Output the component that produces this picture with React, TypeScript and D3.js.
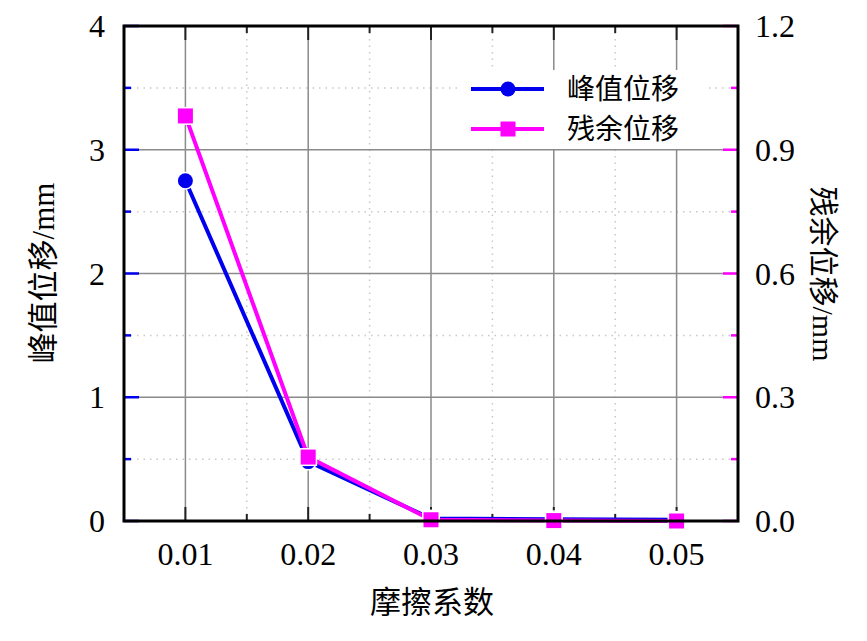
import React from "react";
import * as d3 from "d3";

const frictions = [0.01, 0.02, 0.03, 0.04, 0.05];
const peakDisp = [2.75, 0.48, 0.02, 0.015, 0.01];
const residualDisp = [0.982, 0.155, 0.003, 0.001, 0.0];
const xTicks = [0.01, 0.02, 0.03, 0.04, 0.05];
const xMinor = [0.015, 0.025, 0.035, 0.045];
const yLeftTicks = [0, 1, 2, 3, 4];
const yRightTicks = [0, 0.3, 0.6, 0.9, 1.2];
const seriesNames = ["峰值位移", "残余位移"];

const W = 867, H = 641;
const L = 124, R = 738, T = 26, B = 521;
const BLUE = "#0000ee";
const MAG = "#ff00ff";
const NUM = "'Liberation Serif', 'Times New Roman', serif";
const CJK = "'Noto Sans CJK SC', sans-serif";

export default function App() {
  const x = d3.scaleLinear().domain([0.005, 0.055]).range([L, R]);
  const yL = d3.scaleLinear().domain([0, 4]).range([B, T]);
  const yR = d3.scaleLinear().domain([0, 1.2]).range([B, T]);
  const lineL = d3.line<number>().x((_, i) => x(frictions[i])).y((d) => yL(d));
  const lineR = d3.line<number>().x((_, i) => x(frictions[i])).y((d) => yR(d));
  const yLMinor = d3.range(0.5, 4, 1);
  const legX = 458, legY = 70;
  const row1 = legY + 19, row2 = legY + 59;
  return (
    <svg width={W} height={H} style={{ position: "absolute", left: 0, top: 0, background: "#fff" }}>
      <rect x={0} y={0} width={W} height={H} fill="#fff" />
      {/* minor grid */}
      {xMinor.map((v) => (
        <line key={"xm" + v} x1={x(v)} x2={x(v)} y1={T} y2={B} stroke="#c8c8c8" strokeWidth={1.5} strokeDasharray="1.5 5" />
      ))}
      {yLMinor.map((v) => (
        <line key={"ym" + v} x1={L} x2={R} y1={yL(v)} y2={yL(v)} stroke="#c8c8c8" strokeWidth={1.5} strokeDasharray="1.5 5" />
      ))}
      {/* major grid */}
      {xTicks.map((v) => (
        <line key={"xg" + v} x1={x(v)} x2={x(v)} y1={T} y2={B} stroke="#8a8a8a" strokeWidth={1.5} />
      ))}
      {yLeftTicks.slice(1, -1).map((v) => (
        <line key={"yg" + v} x1={L} x2={R} y1={yL(v)} y2={yL(v)} stroke="#8a8a8a" strokeWidth={1.5} />
      ))}
      {/* ticks x (bottom and top) */}
      {xTicks.map((v) => (
        <g key={"xt" + v}>
          <line x1={x(v)} x2={x(v)} y1={B} y2={B - 14} stroke="#222" strokeWidth={2} />
          <line x1={x(v)} x2={x(v)} y1={T} y2={T + 14} stroke="#222" strokeWidth={2} />
        </g>
      ))}
      {xMinor.map((v) => (
        <g key={"xmt" + v}>
          <line x1={x(v)} x2={x(v)} y1={B} y2={B - 7} stroke="#222" strokeWidth={2} />
          <line x1={x(v)} x2={x(v)} y1={T} y2={T + 7} stroke="#222" strokeWidth={2} />
        </g>
      ))}
      {/* left ticks */}
      {yLeftTicks.map((v) => (
        <line key={"ylt" + v} x1={L} x2={L + 15} y1={yL(v)} y2={yL(v)} stroke={BLUE} strokeWidth={2.5} />
      ))}
      {yLMinor.map((v) => (
        <line key={"ylmt" + v} x1={L} x2={L + 7} y1={yL(v)} y2={yL(v)} stroke={BLUE} strokeWidth={2.5} />
      ))}
      {/* right ticks */}
      {yRightTicks.map((v) => (
        <line key={"yrt" + v} x1={R} x2={R - 15} y1={yR(v)} y2={yR(v)} stroke={MAG} strokeWidth={2.5} />
      ))}
      {d3.range(0.15, 1.2, 0.3).map((v) => (
        <line key={"yrmt" + v} x1={R} x2={R - 7} y1={yR(v)} y2={yR(v)} stroke={MAG} strokeWidth={2.5} />
      ))}
      {/* series */}
      <path d={lineL(peakDisp) ?? ""} fill="none" stroke={BLUE} strokeWidth={4} />
      <path d={lineR(residualDisp) ?? ""} fill="none" stroke={MAG} strokeWidth={4} />
      {peakDisp.map((v, i) => (
        <circle key={"c" + i} cx={x(frictions[i])} cy={yL(v)} r={7.5} fill={BLUE} stroke="#fff" strokeWidth={3} paintOrder="stroke" />
      ))}
      {residualDisp.map((v, i) => (
        <rect key={"s" + i} x={x(frictions[i]) - 7.5} y={yR(v) - 7.5} width={15} height={15} fill={MAG} stroke="#fff" strokeWidth={3} paintOrder="stroke" />
      ))}
      {/* frame */}
      <rect x={L} y={T} width={R - L} height={B - T} fill="none" stroke="#000" strokeWidth={3} />
      {/* legend */}
      <rect x={legX} y={legY} width={247} height={79} fill="#fff" />
      <line x1={legX + 13} x2={legX + 86} y1={row1} y2={row1} stroke={BLUE} strokeWidth={4} />
      <circle cx={legX + 50} cy={row1} r={7.5} fill={BLUE} />
      <line x1={legX + 13} x2={legX + 86} y1={row2} y2={row2} stroke={MAG} strokeWidth={4} />
      <rect x={legX + 50 - 7.5} y={row2 - 7.5} width={15} height={15} fill={MAG} />
      <text x={legX + 109} y={row1} dy="0.36em" fontFamily={CJK} fontSize={28} fill="#000">{seriesNames[0]}</text>
      <text x={legX + 109} y={row2} dy="0.36em" fontFamily={CJK} fontSize={28} fill="#000">{seriesNames[1]}</text>
      {/* tick labels */}
      {xTicks.map((v) => (
        <text key={"xl" + v} x={x(v)} y={565} textAnchor="middle" fontFamily={NUM} fontSize={32} fill="#000">{d3.format(".2f")(v)}</text>
      ))}
      {yLeftTicks.map((v) => (
        <text key={"yll" + v} x={105} y={yL(v)} dy="0.35em" textAnchor="end" fontFamily={NUM} fontSize={32} fill="#000">{v}</text>
      ))}
      {yRightTicks.map((v) => (
        <text key={"yrl" + v} x={755} y={yR(v)} dy="0.35em" textAnchor="start" fontFamily={NUM} fontSize={32} fill="#000">{d3.format(".1f")(v)}</text>
      ))}
      {/* axis titles */}
      <text x={432} y={602} dy="0.36em" textAnchor="middle" fontFamily={CJK} fontSize={31} fill="#000">摩擦系数</text>
      <text transform={`translate(43,273) rotate(-90)`} dy="0.36em" textAnchor="middle" fontFamily={CJK} fontSize={31} fill="#000">
        峰值位移<tspan fontFamily={NUM}>/mm</tspan>
      </text>
      <text transform={`translate(824,274) rotate(90)`} dy="0.36em" textAnchor="middle" fontFamily={CJK} fontSize={30} fill="#000">
        残余位移<tspan fontFamily={NUM}>/mm</tspan>
      </text>
    </svg>
  );
}
